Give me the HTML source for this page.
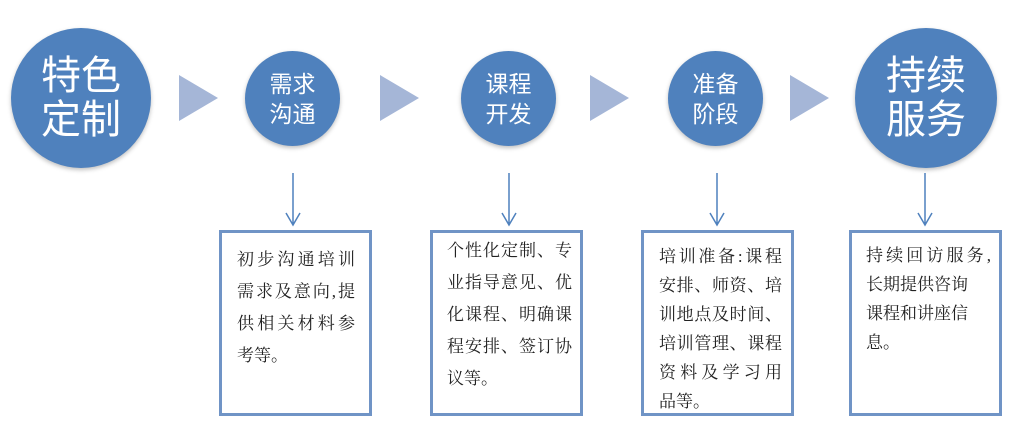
<!DOCTYPE html>
<html><head><meta charset="utf-8"><style>
body{margin:0;width:1024px;height:430px;background:#fff;position:relative;overflow:hidden;font-family:"Liberation Serif","Noto Serif CJK SC",serif}
.c{position:absolute;border-radius:50%;background:#4f81bd;color:#fff;display:flex;align-items:center;justify-content:center;text-align:center;font-family:"Liberation Sans","Noto Sans CJK SC",sans-serif;box-shadow:0 2px 4px rgba(0,0,0,.25)}
.big{font-size:40px;line-height:44px}
.sm{font-size:23px;line-height:30px}
.t{position:absolute;width:0;height:0;border-top:23px solid transparent;border-bottom:23px solid transparent;border-left:39px solid #a5b6d7}
.b{position:absolute;border:3px solid #7094c6;box-sizing:border-box;top:230px;height:186px;width:153px;font-size:17px;color:#222}
.b div{white-space:nowrap;text-align:justify;text-align-last:justify}
.b div.l{text-align-last:left}
</style></head><body>
<div class="c big" style="left:11px;top:28px;width:140px;height:140px">特色<br>定制</div>
<div class="c sm" style="left:245px;top:51px;width:95px;height:95px">需求<br>沟通</div>
<div class="c sm" style="left:461px;top:51px;width:95px;height:95px">课程<br>开发</div>
<div class="c sm" style="left:668px;top:51px;width:95px;height:95px">准备<br>阶段</div>
<div class="c big" style="left:855px;top:28px;width:142px;height:140px">持续<br>服务</div>
<div class="t" style="left:179px;top:75px"></div>
<div class="t" style="left:380px;top:75px"></div>
<div class="t" style="left:590px;top:75px"></div>
<div class="t" style="left:790px;top:75px"></div>
<svg width="1024" height="430" style="position:absolute;left:0;top:0" fill="none" stroke="#4f81bd" stroke-width="1.5">
<path d="M293 173V225M286 213L293 225L300 213"/>
<path d="M509 173V225M502 213L509 225L516 213"/>
<path d="M717 173V225M710 213L717 225L724 213"/>
<path d="M925 173V225M918 213L925 225L932 213"/>
</svg>
<div class="b" style="left:219px;padding:11px 14px 0 15px;line-height:32px">
<div>初步沟通培训</div><div>需求及意向,提</div><div>供相关材料参</div><div class="l">考等。</div></div>
<div class="b" style="left:430px;padding:2px 8px 0 14px;line-height:32px">
<div>个性化定制、专</div><div>业指导意见、优</div><div>化课程、明确课</div><div>程安排、签订协</div><div class="l">议等。</div></div>
<div class="b" style="left:641px;padding:9px 9px 0 15px;line-height:29px">
<div>培训准备:课程</div><div>安排、师资、培</div><div>训地点及时间、</div><div>培训管理、课程</div><div>资料及学习用</div><div class="l">品等。</div></div>
<div class="b" style="left:849px;padding:8px 8px 0 14px;line-height:29px">
<div>持续回访服务,</div><div class="l">长期提供咨询</div><div class="l">课程和讲座信</div><div class="l">息。</div></div>
</body></html>
